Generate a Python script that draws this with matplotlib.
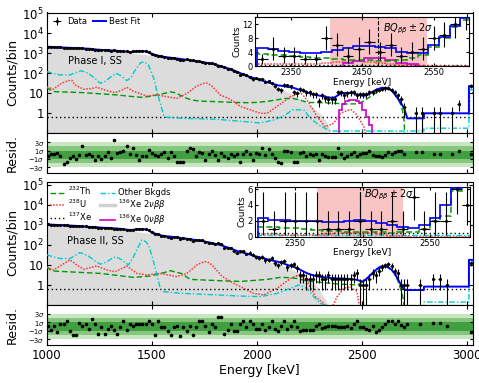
import numpy as np
import matplotlib
matplotlib.use("Agg")
import matplotlib.pyplot as plt
from matplotlib.lines import Line2D
from matplotlib.ticker import NullLocator

# ---------------------------------------------------------------- data
bin_E = np.arange(1005, 2701, 15)          # 15 keV bin centres [keV]

# ---------- Phase I
fit1 = [2130, 2090, 2040, 2000, 1970, 1940, 1910, 1880, 1850, 1820,
        1790, 1760, 1730, 1700, 1640, 1580, 1520, 1480, 1450, 1420,
        1390, 1360, 1330, 1300, 1250, 1200, 1160, 1190, 1250, 1300,
        1310, 1250, 1120, 950, 830, 770, 700, 660, 630, 600,
        575, 550, 525, 500, 475, 450, 425, 405, 385, 365,
        345, 320, 300, 280, 250, 225, 200, 180, 160, 140,
        120, 103, 88, 75, 67, 60, 54, 48, 43, 38,
        34, 31, 28, 25, 24, 22.5, 21, 20, 18.5, 16.5,
        14.5, 13, 11.5, 10, 9.2, 8.5, 7.7, 7.2, 6.7, 6.2,
        6.0, 6.3, 8.0, 10, 10.3, 10.5, 10.5, 10, 9, 8,
        7.5, 7.8, 9.5, 12, 14.5, 17, 19, 18.5, 17, 14,
        9, 5.5, 3.2, 1.8]
data1 = [2119, 2101, 2051, 2018, 1959, 1843, 1840, 1845, 1833, 1777,
         1790, 1844, 1730, 1710, 1624, 1532, 1504, 1442, 1435, 1441,
         1360, 1485, 1345, 1320, 1278, 1276, 1168, 1245, 1250, 1257,
         1301, 1242, 1160, 962, 830, 763, 706, 674, 610, 615,
         569, 512, 484, 464, 497, 484, 453, 397, 397, 373,
         323, 324, 314, 280, 231, 231, 197, 169, 163, 135,
         123, 85, 90, 84, 69, 50, 57, 50, 54, 38,
         42, 32, 24, 17, 14, 26, 25, 22, 12, 10,
         16, 15, 11, 11, 9, 9, 4, 8, 6, 5,
         5, 5, 12, 11, 8, 10, 11, 12, 8, 9,
         9, 9, 12, 12, 14, 15, 17, 18, 19, 15,
         11, 8, 5, 2]
res1 = [-0.24, 0.24, 0.24, 0.4, -0.24, -2.2, -1.6, -0.8, -0.4, -1.0,
        0, 2.0, 0, 0.24, -0.4, -1.2, -0.4, -1.0, -0.4, 0.55,
        -0.8, 3.4, 0.4, 0.55, 0.8, 2.2, 0.24, 1.6, 0, -1.2,
        -0.24, -0.24, 1.2, 0.4, 0, -0.24, 0.24, 0.55, -0.8, 0.63,
        -0.24, -1.6, -1.8, -1.6, 1.0, 1.6, 1.35, -0.4, 0.63, 0.4,
        -1.2, 0.24, 0.8, 0, -1.2, 0.4, -0.24, -0.8, 0.24, -0.4,
        0.24, -1.8, 0.24, 1.0, 0.24, -1.35, 0.4, 0.24, 1.6, 0,
        1.4, 0.24, -0.8, -1.6, -2.0, 0.8, 0.8, 0.55, -1.6, -1.6,
        0.4, 0.55, -0.24, 0.24, 0, 0.24, -1.2, 0.24, -0.4, -0.55,
        -0.55, -0.55, 1.6, 0.24, -0.8, -0.24, 0.24, 0.55, -0.24, 0.24,
        0.4, 0.4, 0.8, 0, -0.24, -0.4, -0.55, 0, 0.55, 0.24,
        0.55, 1.0, 1.0, 0.3]
hiE1 = [2754, 2786, 2841, 2870, 2929, 2960, 3016]
hi_data1 = [1, 1, 1, 1, 1, 3, 24]
hi_res1 = [0.55, 0.55, 0.24, 0.24, 0.24, 0.95, 0.24]
fit_tailE1 = [2715, 2794, 2794, 3008, 3008, 3030]
fit_tail1 = [0.56, 0.56, 1.0, 1.0, 23, 23]

th1_E = [1000, 1015, 1040, 1100, 1175, 1250, 1333, 1413, 1450, 1490, 1540, 1570, 1590, 1615,
         1650, 1690, 1730, 1810, 1890, 1950, 2000, 2050, 2100, 2130, 2170, 2200, 2240, 2300,
         2365, 2430, 2480, 2510, 2540, 2570, 2600, 2620, 2645, 2670, 2690, 2700, 2705]
th1_V = [20, 15, 12, 11.5, 10.8, 9.5, 8.3, 6.8, 6.3, 7.0, 8.9, 10.5, 11.7, 10.5,
         6.5, 4.6, 4.1, 3.8, 3.5, 3.4, 3.5, 4.0, 4.8, 5.5, 5.5, 4.8, 3.5, 3.4,
         3.2, 2.9, 3.0, 4.2, 7.0, 11, 17.5, 18, 13, 6.0, 1.8, 0.4, 0.01]
u1_E = [1000, 1032, 1071, 1103, 1120, 1135, 1175, 1210, 1238, 1286, 1325, 1355, 1381, 1410,
        1440, 1476, 1524, 1571, 1619, 1667, 1714, 1749, 1765, 1786, 1825, 1873, 1921, 1968,
        2016, 2048, 2095, 2130, 2159, 2198, 2215, 2238, 2262, 2286, 2325, 2365, 2397, 2430,
        2448, 2476, 2508, 2524]
u1_V = [21, 16, 32, 43, 44, 26, 16, 17, 20, 13.6, 10.8, 14, 20, 13,
        10, 7.3, 8.3, 6.8, 5.6, 10, 23, 32, 32, 23, 8.3, 5, 2.2, 1.5,
        1.0, 1.0, 2.2, 4.0, 6.8, 10, 9, 4.6, 1.8, 0.68, 0.21, 0.32, 1.0, 1.4,
        1.5, 0.82, 0.21, 0.05]
ot1_E = [1000, 1063, 1111, 1140, 1165, 1198, 1230, 1254, 1280, 1302, 1330, 1355, 1381, 1400,
         1420, 1445, 1462, 1484, 1500, 1512, 1524, 1540, 1556, 1571, 1651, 1810, 1921, 2016,
         2079, 2127, 2170, 2200, 2225, 2254, 2294, 2349, 2794, 2794, 3008, 3008, 3030]
ot1_V = [120, 83, 83, 110, 135, 100, 55, 32, 40, 63, 100, 74, 43, 60,
         140, 330, 380, 260, 100, 46, 12, 3.2, 0.83, 0.63, 0.56, 0.5, 0.4, 0.33,
         0.46, 0.73, 1.5, 1.5, 1.4, 0.56, 0.26, 0.13, 0.13, 0.18, 0.18, 15, 15]
xe1_E = [1000, 3008, 3008, 3030]
xe1_V = [0.63, 0.63, 12, 12]
nn1_E = [1000, 1100, 1200, 1300, 1400, 1500, 1600, 1700, 1800, 1900,
         2000, 2050, 2100, 2150, 2200, 2250, 2300, 2330, 2345, 2350]
nn1_V = [1950, 1800, 1600, 1300, 1050, 780, 540, 390, 250, 115,
         45, 28, 18, 11, 5.5, 2.6, 1.0, 0.4, 0.18, 0.01]
zn1_edges = [2389, 2405, 2421, 2437, 2453, 2469, 2485, 2501, 2517, 2533, 2549]
zn1_V = [1.5, 2.9, 4.3, 4.6, 4.6, 4.3, 3.2, 1.5, 0.68, 0.26]

# ---------- Phase II
fit2 = [1065, 1040, 1020, 1000, 985, 970, 955, 935, 915, 895,
        875, 850, 825, 800, 785, 765, 750, 735, 720, 710,
        695, 675, 660, 640, 615, 580, 560, 570, 590, 610,
        615, 600, 540, 420, 375, 330, 300, 280, 270, 260,
        250, 240, 225, 215, 205, 195, 185, 175, 165, 155,
        145, 135, 125, 115, 105, 95, 85, 75, 66, 58,
        50, 45, 41, 37, 33.5, 30, 27, 24.5, 22.5, 20.5,
        18.5, 17, 15.5, 14.5, 13, 11.5, 10, 9, 8, 7,
        5.8, 4.8, 4.0, 3.5, 3.1, 2.8, 2.6, 2.5, 2.4, 2.3,
        2.2, 2.2, 2.1, 2.1, 2.1, 2.0, 2.0, 1.9, 1.8, 1.6,
        1.5, 2.0, 2.8, 4.0, 5.6, 7.5, 8.8, 8.6, 7.5, 5.8,
        3.8, 2.0, 1.0, 0.6]
data2 = [1073, 1015, 1027, 959, 1000, 985, 993, 902, 856, 837,
         898, 850, 843, 785, 835, 778, 699, 731, 670, 696,
         701, 651, 616, 636, 646, 561, 571, 575, 601, 622,
         627, 612, 569, 430, 334, 353, 297, 277, 252, 226,
         247, 244, 191, 213, 189, 198, 156, 173, 181, 170,
         148, 120, 132, 113, 129, 118, 69, 68, 70, 50,
         42, 48, 49, 36, 41, 33, 24, 22, 25, 17,
         18, 22, 13, 10, 14, 16, 8, 10, 11, 7,
         3, 3, 2, 2, 2, 3, 3, 2, 2, 3,
         2, 2, 2, 2, 2, 2, 2, 3, 4, 1,
         1, 1, 2, 4, 3, 5, 8, 10, 11, 9,
         5, 4, 1, 1]
res2 = [0.23, -0.78, 0.23, -1.3, 0.47, 0.47, 1.24, -1.09, -1.94, -1.94,
        0.78, 0, 0.62, -0.54, 1.78, 0.47, -1.86, -0.16, -1.86, -0.54,
        0.23, -0.93, -1.7, -0.16, 1.24, -0.78, 0.47, 0.23, 0.47, 0.47,
        0.47, 0.47, 1.24, 0.47, -2.1, 1.24, -0.16, -0.16, -1.09, -2.1,
        -0.16, 0.23, -2.25, -0.16, -1.09, 0.23, -2.1, -0.16, 1.24, 1.24,
        0.23, -1.3, 0.62, -0.16, 2.33, 2.33, -1.7, -0.78, 0.47, -1.09,
        -1.09, 0.47, 1.24, -0.16, 1.24, 0.62, -0.54, -0.54, 0.47, -0.78,
        -0.16, 1.24, -0.54, -1.09, 0.23, 1.24, -0.54, 0.23, 1.24, -0.16,
        -1.09, -0.78, -0.78, -0.78, -0.78, 0, 0.47, -0.31, -0.16, 0.23,
        0.23, 0.23, -0.16, -0.16, -0.16, 0.23, -0.31, 0.47, 1.24, -0.16,
        -0.16, -0.54, -0.78, 0.23, -1.3, -0.78, -0.16, 0.47, 1.24, 1.24,
        0.47, 1.24, 0.3, -0.2]
hiE2 = [2714, 2775, 2838, 2870, 2902, 3016]
hi_data2 = [1, 1, 2, 2, 1, 12]
hi_res2 = [0.47, 0.47, 0.78, 0.78, 0.23, -1.3]
fit_tailE2 = [2708, 2794, 2794, 3008, 3008, 3030]
fit_tail2 = [0.56, 0.56, 0.83, 0.83, 18, 18]

th2_E = [1000, 1015, 1032, 1095, 1254, 1413, 1492, 1560, 1587, 1610, 1640, 1683, 1810, 1921,
         2048, 2111, 2160, 2190, 2238, 2317, 2397, 2476, 2508, 2540, 2570, 2603, 2625, 2650,
         2670, 2690, 2698, 2702]
th2_V = [8.3, 6.0, 5.0, 4.6, 3.8, 2.4, 2.8, 4.2, 5.2, 4.5, 3.8, 1.9, 1.66, 1.5,
         1.9, 2.4, 2.3, 2.1, 1.6, 1.3, 1.1, 1.0, 1.5, 3.0, 5.5, 8.3, 7.5, 4.2,
         1.66, 0.38, 0.15, 0.01]
u2_E = [1000, 1032, 1071, 1111, 1143, 1175, 1238, 1286, 1325, 1355, 1381, 1429, 1476, 1540,
        1619, 1667, 1714, 1749, 1765, 1786, 1833, 1889, 1921, 1984, 2032, 2095, 2159, 2198,
        2238, 2278, 2317, 2349, 2381, 2413, 2444, 2476, 2500]
u2_V = [7.6, 5.6, 10, 18, 10, 6.1, 8.9, 5.6, 4.6, 6.5, 8.9, 3.8, 3.2, 3.8,
        2.6, 3.8, 10, 14.7, 14, 10, 2.8, 1.2, 0.83, 0.38, 0.32, 0.68, 2.1, 3.2,
        1.5, 0.26, 0.12, 0.05, 0.26, 0.68, 0.83, 0.46, 0.01]
ot2_E = [1000, 1063, 1111, 1140, 1159, 1198, 1230, 1254, 1285, 1309, 1330, 1357, 1389, 1413,
         1430, 1452, 1470, 1484, 1500, 1508, 1524, 1540, 1556, 1651, 1921, 2016, 2095, 2159,
         2198, 2238, 2270, 2302, 2330, 2794, 2794, 3008, 3008, 3030]
ot2_V = [32, 21, 21, 32, 42, 28, 16, 11, 14, 21, 26, 18, 10, 26,
         60, 178, 150, 100, 30, 14.7, 3.2, 0.68, 0.46, 0.38, 0.28, 0.26, 0.38, 0.68,
         1.0, 0.68, 0.26, 0.12, 0.09, 0.09, 0.14, 0.14, 15, 15]
xe2_E = [1000, 3030]
xe2_V = [0.6, 0.6]
nn2_E = [1000, 1100, 1200, 1300, 1400, 1500, 1600, 1700, 1800, 1900,
         2000, 2050, 2100, 2150, 2200, 2240, 2286, 2317, 2335, 2342]
nn2_V = [1000, 900, 760, 640, 500, 370, 220, 160, 100, 47,
         22, 15, 10.5, 7, 4.0, 2.6, 0.83, 0.26, 0.12, 0.01]

# ---------- ROI insets
ins1_E = np.arange(2310, 2596, 15)
ins1_data = [2, 5, 3, 3, 2, 2, 8, 6, 3, 5, 7, 4, 6, 3, 4, 5, 8, 9, 12, 15]
ins1_elo = [1.3, 3.2, 2.0, 2.0, 1.3, 1.3, 3.4, 3.0, 2.0, 3.2, 3.4, 2.4, 3.0, 2.0, 2.4, 3.2, 3.4, 3.6, 4.0, 4.5]
ins1_ehi = [1.5, 3.4, 2.6, 2.6, 1.5, 1.5, 3.6, 3.4, 2.6, 3.4, 3.6, 3.0, 3.4, 2.6, 3.0, 3.4, 3.6, 3.8, 4.2, 4.7]
ins1_fit = [5.3, 4.8, 4.3, 4.0, 3.8, 3.8, 4.0, 4.6, 5.2, 5.9, 5.9, 5.6, 5.1, 4.1, 3.7, 3.7, 6.0, 8.3, 11.5, 13.7]
ins1_th = [3.4, 3.3, 3.1, 2.9, 2.6, 2.4, 2.2, 2.0, 1.8, 1.7, 1.6, 1.5, 1.5, 1.7, 2.2, 3.2, 5.5, 8.0, 11.3, 13.3]
ins1_u = [0.6, 0.6, 0.55, 0.5, 0.6, 0.7, 0.9, 1.1, 1.2, 1.3, 1.2, 0.9, 0.6, 0.4, 0.2, 0.1, 0.05, 0.02, 0.0, 0.0]
ins1_xe = [0.3, 0.3, 0.3, 0.3, 0.3, 0.3, 0.3, 0.3, 0.3, 0.3, 0.3, 0.3, 0.3, 0.3, 0.3, 0.3, 0.3, 0.3, 0.3, 0.3]
ins1_ot = [0.12, 0.12, 0.12, 0.12, 0.12, 0.12, 0.12, 0.12, 0.12, 0.12, 0.12, 0.12, 0.12, 0.12, 0.12, 0.12, 0.12, 0.12, 0.12, 0.12]
ins1_zn_edges = [2422.5, 2437.5, 2452.5, 2467.5, 2482.5, 2497.5, 2512.5, 2527.5]
ins1_zn = [0.8, 1.4, 2.2, 2.2, 1.7, 1.0, 0.5]
roi1 = (2405, 2541)
q1 = 2472

ins2_E = np.arange(2302, 2607, 16)
ins2_data = [2, 1, 2, 2, 2, 2, 1, 1, 1, 2, 1, 1, 2, 1, 5, 1, 2, 2, 6, 4]
ins2_elo = [1.8, 0.8, 1.8, 1.8, 1.8, 1.8, 0.8, 0.8, 0.8, 1.8, 0.8, 0.8, 1.8, 0.8, 2.9, 0.8, 1.8, 1.8, 3.2, 2.5]
ins2_ehi = [3.6, 2.2, 3.6, 3.6, 3.6, 3.6, 2.2, 2.2, 2.2, 3.6, 2.2, 2.2, 3.6, 2.2, 3.9, 2.2, 3.6, 3.6, 4.2, 3.8]
ins2_fit = [2.3, 2.15, 2.1, 2.0, 2.0, 2.0, 1.85, 1.85, 2.0, 2.1, 2.0, 1.75, 1.5, 1.2, 1.13, 1.5, 2.3, 4.0, 6.1, 7.0]
ins2_th = [1.25, 1.2, 1.15, 1.05, 0.95, 0.85, 0.75, 0.7, 0.65, 0.6, 0.55, 0.55, 0.5, 0.55, 0.65, 1.0, 2.0, 2.6, 5.8, 6.5]
ins2_u = [0.3, 0.3, 0.25, 0.2, 0.2, 0.25, 0.35, 0.45, 0.5, 0.5, 0.45, 0.3, 0.15, 0.05, 0, 0, 0, 0, 0, 0]
ins2_xe = [0.5, 0.5, 0.5, 0.5, 0.5, 0.5, 0.5, 0.5, 0.5, 0.5, 0.5, 0.5, 0.5, 0.5, 0.5, 0.5, 0.5, 0.5, 0.5, 0.5]
ins2_ot = [0.2, 0.2, 0.2, 0.2, 0.2, 0.2, 0.2, 0.2, 0.2, 0.2, 0.2, 0.2, 0.2, 0.2, 0.2, 0.2, 0.2, 0.2, 0.2, 0.2]
roi2 = (2382, 2510)
q2 = 2446

# ---------------------------------------------------------------- style
C_FIT = "#0000ff"
C_TH = "#009900"
C_U = "#ff3333"
C_OT = "#00cccc"
C_XE = "k"
C_NN = "#dcdcdc"
C_ZN = "#cc00cc"
LS_TH = (0, (4, 2))
LS_U = (0, (1, 1))
LS_XE = (0, (1, 2))
LS_OT = (0, (4, 1.5, 1, 1.5))

fig = plt.figure(figsize=(4.79, 3.83), dpi=100)
L, W = 46.7 / 479, (472.5 - 46.7) / 479


def fr(top_px, bot_px):
    return [L, 1 - bot_px / 383, W, (bot_px - top_px) / 383]


ax1 = fig.add_axes(fr(12.5, 133.3))
r1 = fig.add_axes(fr(133.3, 173.3))
ax2 = fig.add_axes(fr(181.7, 305))
r2 = fig.add_axes(fr(305, 345))


def main_panel(ax, nnE, nnV, thE, thV, uE, uV, xeE, xeV, otE, otV, fit, tailE, tail,
               data, hiE, hidata, zn_edges=None, zn=None, ytop=1.1e5):
    ax.fill_between(nnE, nnV, 1e-3, color=C_NN, lw=0, zorder=1)
    ax.plot(thE, thV, color=C_TH, ls=LS_TH, lw=1.0, zorder=3)
    ax.plot(uE, uV, color=C_U, ls=LS_U, lw=1.1, zorder=3)
    ax.plot(xeE, xeV, color=C_XE, ls=LS_XE, lw=1.0, zorder=3)
    ax.plot(otE, otV, color=C_OT, ls=LS_OT, lw=1.0, zorder=3)
    if zn is not None:
        ax.stairs(zn, zn_edges, baseline=1e-3, color=C_ZN, lw=1.2, zorder=3)
    ax.plot(np.concatenate([bin_E, tailE]), np.concatenate([fit, tail]),
            color=C_FIT, lw=1.4, zorder=4)
    dE = np.concatenate([bin_E, hiE])
    dV = np.concatenate([data, hidata]).astype(float)
    eb = ax.errorbar(dE, dV, yerr=np.sqrt(dV), xerr=7.5, fmt="o", color="k", ms=1.3,
                     elinewidth=0.8, capsize=0, zorder=5)
    ax.set_yscale("log", nonpositive="clip")
    ax.set_ylim(0.1, ytop)
    ax.set_xlim(1000, 3025)
    ax.set_yticks([1, 10, 100, 1e3, 1e4, 1e5])
    ax.set_yticklabels(["1", "10", "$10^2$", "$10^3$", "$10^4$", "$10^5$"])
    ax.yaxis.set_minor_locator(NullLocator())
    ax.set_xticks([1000, 1500, 2000, 2500, 3000])
    ax.tick_params(direction="in", top=True, right=True, labelbottom=False,
                   labelsize=8.5, length=3, pad=2)
    return eb


def resid_panel(ax, res, hiE, hires, labels=False):
    ax.axhspan(-3, 3, color="#c8e6c2", lw=0, zorder=0)
    ax.axhspan(-2, 2, color="#86c67f", lw=0, zorder=0)
    ax.axhspan(-1, 1, color="#40a040", lw=0, zorder=0)
    ax.plot(np.concatenate([bin_E, hiE]), np.concatenate([res, hires]), "o",
            color="k", ms=1.6, zorder=3)
    ax.set_xlim(1000, 3025)
    ax.set_ylim(-4.4, 5.1)
    ax.set_yticks([3, 1, -1, -3])
    ax.set_yticklabels([r"$3\sigma$", r"$1\sigma$", r"$-1\sigma$", r"$-3\sigma$"])
    ax.set_xticks([1000, 1500, 2000, 2500, 3000])
    ax.tick_params(axis="y", labelsize=4.8, direction="in", right=True, length=2, pad=1.5)
    ax.tick_params(axis="x", labelsize=8.5, direction="in", top=True, length=3,
                   labelbottom=labels, pad=3)


eb1 = main_panel(ax1, nn1_E, nn1_V, th1_E, th1_V, u1_E, u1_V, xe1_E, xe1_V, ot1_E, ot1_V,
                 fit1, fit_tailE1, fit_tail1, data1, hiE1, hi_data1, zn1_edges, zn1_V, ytop=1.1e5)
main_panel(ax2, nn2_E, nn2_V, th2_E, th2_V, u2_E, u2_V, xe2_E, xe2_V, ot2_E, ot2_V,
           fit2, fit_tailE2, fit_tail2, data2, hiE2, hi_data2, ytop=1.45e5)
resid_panel(r1, res1, hiE1, hi_res1)
resid_panel(r2, res2, hiE2, hi_res2, labels=True)
r2.set_xlabel("Energy [keV]", fontsize=9, labelpad=1)

ax1.text(0.05, 0.60, "Phase I, SS", transform=ax1.transAxes, fontsize=7, va="center")
ax2.text(0.048, 0.52, "Phase II, SS", transform=ax2.transAxes, fontsize=7, va="center")

for yc, txt in [(72.5, "Counts/bin"), (153, "Resid."), (243, "Counts/bin"), (325, "Resid.")]:
    fig.text(12 / 479, 1 - yc / 383, txt, rotation=90, ha="center", va="center", fontsize=9)

# legends
h_fit = Line2D([], [], color=C_FIT, lw=1.4)
ax1.legend([eb1, h_fit], ["Data", "Best Fit"], loc="upper left", ncol=2, frameon=False,
           fontsize=6, handlelength=1.5, handletextpad=0.4, columnspacing=0.8,
           borderaxespad=0.2, borderpad=0.3)
hs = [Line2D([], [], color=C_TH, ls=LS_TH, lw=1.0),
      Line2D([], [], color=C_U, ls=LS_U, lw=1.1),
      Line2D([], [], color=C_XE, ls=LS_XE, lw=1.0),
      Line2D([], [], color=C_OT, ls=LS_OT, lw=1.0),
      Line2D([], [], color="#d0d0d0", lw=2.5),
      Line2D([], [], color=C_ZN, lw=1.2)]
lb = [r"$^{232}$Th", r"$^{238}$U", r"$^{137}$Xe", "Other Bkgds",
      r"$^{136}$Xe 2$\nu\beta\beta$", r"$^{136}$Xe 0$\nu\beta\beta$"]
ax2.legend(hs, lb, loc="upper left", ncol=2, frameon=False, fontsize=6,
           handlelength=1.8, handletextpad=0.4, columnspacing=0.9, labelspacing=0.05,
           borderaxespad=0.2, borderpad=0.2)


def inset(rect, E, halfw, data, elo, ehi, fit, th, u, xe, ot, xlim, ylim, yticks,
          roi, q, qls, txt_xy, zn_edges=None, zn=None):
    ins = fig.add_axes(rect)
    ins.set_facecolor("white")
    E = np.asarray(E)
    edges = np.append(E - halfw, E[-1] + halfw)
    ins.axvspan(roi[0], roi[1], color="#f8c4c4", lw=0, zorder=0)
    ins.axvline(q, color="k", ls=qls, lw=0.8, zorder=1)
    ins.stairs(ot, edges, color=C_OT, ls=LS_OT, lw=1.0, zorder=2)
    ins.stairs(xe, edges, color=C_XE, ls=LS_XE, lw=1.0, zorder=2)
    ins.stairs(u, edges, color=C_U, ls=LS_U, lw=1.1, zorder=2)
    if zn is not None:
        ins.stairs(zn, zn_edges, baseline=0, color=C_ZN, lw=1.2, zorder=2)
    ins.stairs(th, edges, color=C_TH, ls=LS_TH, lw=1.1, zorder=3)
    ins.stairs(fit, edges, color=C_FIT, lw=1.2, zorder=4)
    ins.errorbar(E, data, yerr=[elo, ehi], xerr=halfw, fmt="o", color="k", ms=1.2,
                 elinewidth=0.8, capsize=0, zorder=5)
    ins.set_xlim(*xlim)
    ins.set_ylim(*ylim)
    ins.set_yticks(yticks)
    ins.set_xticks([2350, 2450, 2550])
    ins.tick_params(labelsize=6, direction="in", length=2, pad=1.5, top=True, right=True)
    ins.set_xlabel("Energy [keV]", fontsize=6.5, labelpad=0.5)
    ins.set_ylabel("Counts", fontsize=6.5, labelpad=1)
    ins.text(txt_xy[0], txt_xy[1], r"$BQ_{\beta\beta}\pm2\sigma$", fontsize=7,
             va="center", ha="left", zorder=6)
    return ins


inset([255 / 479, 1 - 66 / 383, 214.3 / 479, 49.3 / 383], ins1_E, 7.5, ins1_data, ins1_elo,
      ins1_ehi, ins1_fit, ins1_th, ins1_u, ins1_xe, ins1_ot, (2300, 2600), (0, 14.2),
      [0, 4, 8, 12], roi1, q1, "--", (2479, 10.6), ins1_zn_edges, ins1_zn)
inset([255 / 479, 1 - 236.7 / 383, 215 / 479, 50 / 383], ins2_E, 8, ins2_data, ins2_elo,
      ins2_ehi, ins2_fit, ins2_th, ins2_u, ins2_xe, ins2_ot, (2290, 2610), (0, 6.3),
      [0, 2, 4, 6], roi2, q2, "-.", (2452, 5.25))

fig.savefig("out.png", dpi=100)
